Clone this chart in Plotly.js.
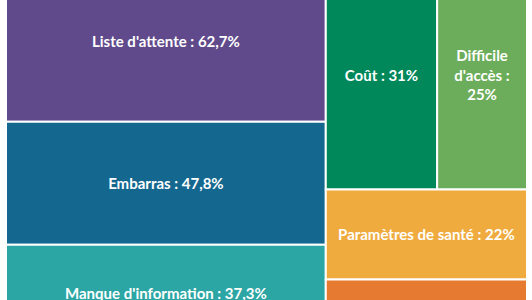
<!DOCTYPE html>
<html>
<head>
<meta charset="utf-8">
<script src="https://cdn.plot.ly/plotly-3.0.1.min.js"></script>
<style>
html,body{margin:0;padding:0;overflow:hidden;width:532px;height:300px;background:#fff;}
#chart{position:absolute;left:0;top:-40px;width:532px;height:381px;}
</style>
</head>
<body>
<div id="chart"></div>
<script>
const labels = ["Liste d'attente", "Embarras", "Manque d'information", "Coût", "Difficile d'accès", "Paramètres de santé", "Autre"];
const displayLabels = ["Liste d'attente", "Embarras", "Manque d'information", "Coût", "Difficile<br>d'accès", "Paramètres de santé", "Autre"];
const values = [62.7, 47.8, 37.3, 31, 25, 22, 15];
const colors = ["#604A8B", "#14688F", "#2CA6A4", "#00875A", "#6BAD5A", "#F0AB3E", "#E57A30"];

const texts = values.map((v, i) => {
  const num = String(v).replace('.', ',') + '%';
  return displayLabels[i].indexOf('<br>') >= 0 ? displayLabels[i] + ' :<br>' + num : displayLabels[i] + ' : ' + num;
});

const trace = {
  type: 'treemap',
  labels: labels,
  parents: labels.map(() => ''),
  values: values,
  text: texts,
  texttemplate: '%{text}',
  textposition: 'middle center',
  textfont: {family: 'Lato, sans-serif', size: 15, weight: 'bold', color: '#ffffff'},
  marker: {colors: colors, line: {width: 2, color: '#ffffff'}, pad: {t: 0, l: 0, r: 0, b: 0}},
  leaf: {opacity: 1},
  tiling: {packing: 'squarify', squarifyratio: 3, pad: 0},
  pathbar: {visible: false},
  hoverinfo: 'none',
  sort: true
};

const layout = {
  width: 532,
  height: 381,
  margin: {l: 6, r: 5, t: 0, b: 0},
  paper_bgcolor: '#ffffff',
  uniformtext: {mode: 'show', minsize: 15},
  showlegend: false
};

Plotly.newPlot('chart', [trace], layout, {displayModeBar: false, staticPlot: true});
</script>
</body>
</html>
